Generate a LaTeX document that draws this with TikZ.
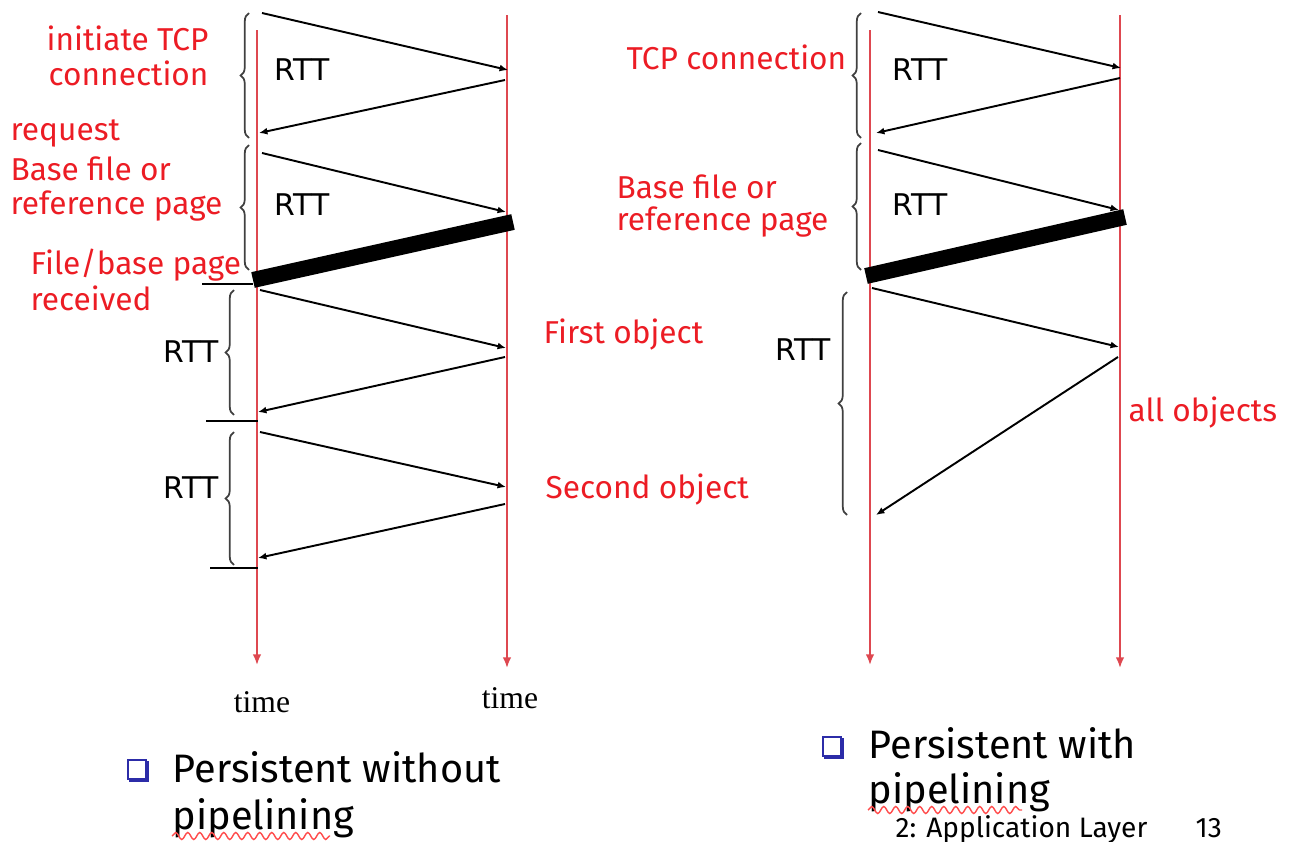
\documentclass[tikz,border=0pt]{standalone}
\usepackage{fontspec}
\setmainfont{Liberation Serif}
\newfontfamily\labelfont{Fira Sans}
\newfontfamily\rttfont{DejaVu Sans}
\usetikzlibrary{arrows.meta,decorations.pathreplacing,decorations.pathmorphing}
\definecolor{lred}{RGB}{236,28,36}
\definecolor{tred}{RGB}{222,72,80}
\definecolor{bblue}{RGB}{44,44,168}
\begin{document}
\begin{tikzpicture}[x=0.1mm, y=-0.1mm, >={Latex[length=2.4pt,width=2pt]},
  msg/.style={->, line width=0.55pt},
  tline/.style={-{Latex[length=3pt,width=2.4pt]}, tred, line width=0.5pt},
  databar/.style={line width=1.6mm, line cap=butt},
  rttbrace/.style={decorate, decoration={brace,amplitude=2.4pt}, line width=0.5pt, black!75},
  lbl/.style={anchor=west, inner sep=0pt, text=lred, font=\labelfont\fontsize{9}{10}\selectfont},
  rttlbl/.style={inner sep=0pt, font=\rttfont\fontsize{8.5}{10}\selectfont},
  timelbl/.style={inner sep=0pt, font=\fontsize{9}{10}\selectfont},
  title/.style={anchor=base west, inner sep=0pt, font=\labelfont\fontsize{11.3}{13}\selectfont},
  footer/.style={anchor=base west, inner sep=0pt, font=\labelfont\fontsize{8}{9}\selectfont},
  spellmark/.style={red!70, line width=0.4pt, decorate, decoration={snake,amplitude=0.35mm,segment length=1.2mm}}]
\useasboundingbox (0,0) rectangle (1294,842);
\clip (0,0) rectangle (1294,842);

% time lines
\coordinate (lct) at (257,30);  \coordinate (lcb) at (257,665);
\coordinate (lst) at (507,15);  \coordinate (lsb) at (507,668);
\coordinate (rct) at (870,30);  \coordinate (rcb) at (870,665);
\coordinate (rst) at (1120,15); \coordinate (rsb) at (1120,668);
\draw[tline] (lct)--(lcb);
\draw[tline] (lst)--(lsb);
\draw[tline] (rct)--(rcb);
\draw[tline] (rst)--(rsb);

% without pipelining
\coordinate (lc1) at (262,13);  \coordinate (ls1) at (508,70);
\coordinate (ls2) at (505,80);  \coordinate (lc2) at (259,133);
\coordinate (lc3) at (262,153); \coordinate (ls3) at (506,212);
\coordinate (ls4) at (513,222); \coordinate (lc4) at (253,280);
\coordinate (lc5) at (260,290); \coordinate (ls5) at (506,348);
\coordinate (ls6) at (505,357); \coordinate (lc6) at (258,412);
\coordinate (lc7) at (260,432); \coordinate (ls7) at (506,487);
\coordinate (ls8) at (505,504); \coordinate (lc8) at (258,558);
\draw[msg] (lc1)--(ls1);
\draw[msg] (ls2)--(lc2);
\draw[msg] (lc3)--(ls3);
\draw[databar] (ls4)--(lc4);
\draw[msg] (lc5)--(ls5);
\draw[msg] (ls6)--(lc6);
\draw[msg] (lc7)--(ls7);
\draw[msg] (ls8)--(lc8);

\coordinate (tk1) at (202,284); \coordinate (tk1e) at (253,284);
\coordinate (tk2) at (206,421); \coordinate (tk2e) at (258,421);
\coordinate (tk3) at (210,568); \coordinate (tk3e) at (258,568);
\draw[line width=0.5pt] (tk1)--(tk1e);
\draw[line width=0.5pt] (tk2)--(tk2e);
\draw[line width=0.5pt] (tk3)--(tk3e);

% with pipelining
\coordinate (rc1) at (878,12);  \coordinate (rs1) at (1121,68);
\coordinate (rs2) at (1120,78); \coordinate (rc2) at (876,133);
\coordinate (rc3) at (878,150); \coordinate (rs3) at (1119,210);
\coordinate (rs4) at (1125,217); \coordinate (rc4) at (866,276);
\coordinate (rc5) at (872,288); \coordinate (rs5) at (1119,347);
\coordinate (rs6) at (1118,357); \coordinate (rc6) at (876,515);
\draw[msg] (rc1)--(rs1);
\draw[msg] (rs2)--(rc2);
\draw[msg] (rc3)--(rs3);
\draw[databar] (rs4)--(rc4);
\draw[msg] (rc5)--(rs5);
\draw[msg] (rs6)--(rc6);

% RTT braces
\foreach \x/\a/\b in {249/138/13, 249/270/145, 234/415/290, 234/565/432,
                      861/138/13, 861/270/143, 847/515/292}
{
    \draw[rttbrace] (\x,\a)--(\x,\b);
}

\node[rttlbl] (rtt1) at (302,70) {RTT};
\node[rttlbl] (rtt2) at (302,205) {RTT};
\node[rttlbl] (rtt3) at (191,352) {RTT};
\node[rttlbl] (rtt4) at (191,488) {RTT};
\node[rttlbl] (rtt5) at (920,70) {RTT};
\node[rttlbl] (rtt6) at (920,205) {RTT};
\node[rttlbl] (rtt7) at (803,350) {RTT};

\node[lbl] (init) at (46,38) {initiate TCP};
\node[lbl] (conn) at (48,73) {connection};
\node[lbl] (req) at (10,133) {request};
\node[lbl] (base) at (10,169) {Base file or};
\node[lbl] (refp) at (10,206) {reference page};
\node[lbl] (fbase) at (30,265) {File/base page};
\node[lbl] (recv) at (30,298) {received};
\node[lbl] (first) at (543,335) {First object};
\node[lbl] (second) at (545,490) {Second object};
\node[lbl] (tcpc) at (626,57) {TCP connection};
\node[lbl] (rbase) at (616,187) {Base file or};
\node[lbl] (rrefp) at (616,222) {reference page};
\node[lbl] (allobj) at (1128,413) {all objects};

\node[timelbl] (time1) at (262,702) {time};
\node[timelbl] (time2) at (510,698) {time};

% bullets
\draw[bblue, line width=0.6pt] (128,760) rectangle (146,779);
\draw[bblue, line width=1.4pt] (147,761)--(147,780)--(129,780);
\draw[bblue, line width=0.6pt] (823,737) rectangle (841,756);
\draw[bblue, line width=1.4pt] (842,738)--(842,757)--(824,757);

\node[title] (t1a) at (172,782) {Persistent without};
\node[title] (t1b) at (172,829) {pipelining};
\node[title] (t2a) at (868,758) {Persistent with};
\node[title] (t2b) at (868,803) {pipelining};
\draw[spellmark] (172,836)--(330,836);
\draw[spellmark] (868,810)--(1022,810);

\node[footer] (foot) at (895,837) {2: Application Layer};
\node[footer] (pg) at (1195,837) {13};
\end{tikzpicture}
\end{document}
